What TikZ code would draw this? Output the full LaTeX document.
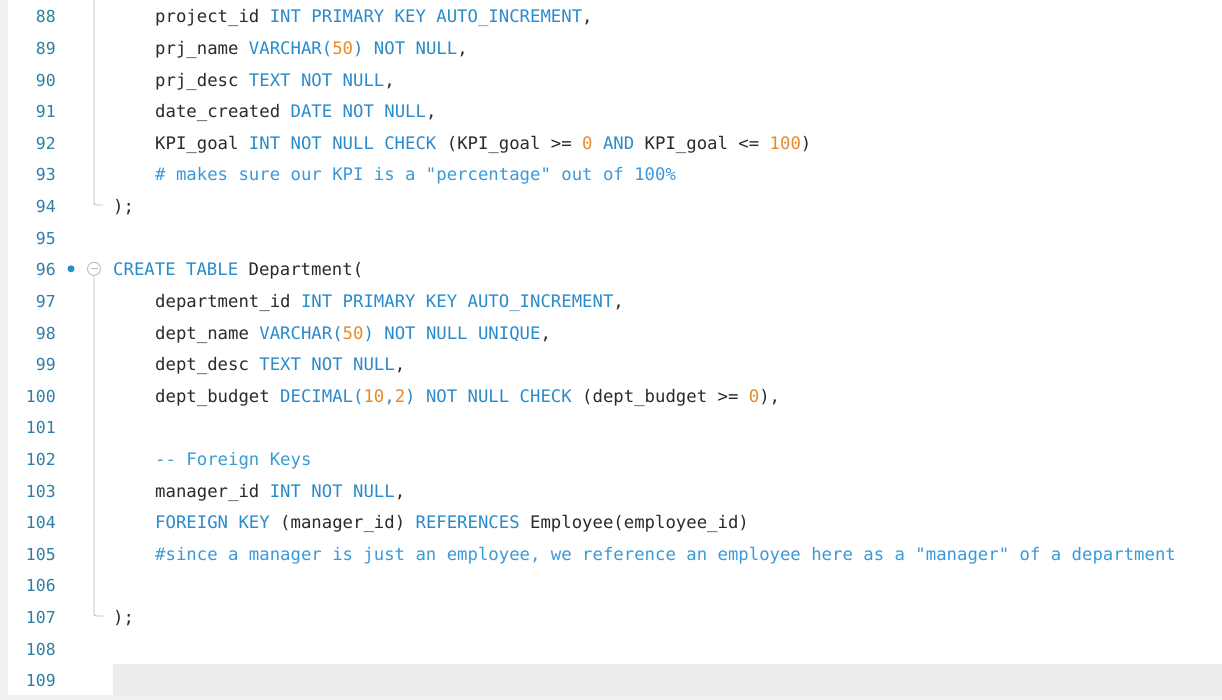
\documentclass[tikz,border=0pt]{standalone}
\usepackage{fontspec}
\newfontfamily\codefont{DejaVu Sans Mono}
\definecolor{kw}{HTML}{2A8BCB}
\definecolor{num}{HTML}{E8892B}
\definecolor{cmt}{HTML}{3A9AD9}
\definecolor{txt}{HTML}{2B2B2B}
\definecolor{lnum}{HTML}{2F7EA6}
\definecolor{fold}{HTML}{B8B8B0}
\newcommand{\kw}[1]{\textcolor{kw}{#1}}
\newcommand{\nm}[1]{\textcolor{num}{#1}}
\newcommand{\cm}[1]{\textcolor{cmt}{#1}}
\begin{document}
\begin{tikzpicture}[x=1pt,y=-1pt,
  code/.style={anchor=base west,inner sep=0,font=\codefont\fontsize{17.3}{18}\selectfont,text=txt},
  ln/.style={anchor=base east,inner sep=0,font=\codefont\fontsize{16.5}{18}\selectfont,text=lnum}]
\useasboundingbox (0,0) rectangle (1222,700);
\fill[white] (0,0) rectangle (1222,700);
\fill[black!6] (0,0) rectangle (8,700);
\fill[black!6] (0,695) rectangle (1222,700);
\fill[black!7] (113,664) rectangle (1222,695);
% line numbers
\foreach \n [count=\i from 0] in {88,...,109} {
  \node[ln] (l\n) at (56,{23+\i*31.6}) {\n};
}
% fold markers
\draw[fold,line width=0.8] (94,0) -- (94,200) .. controls (94,205) .. (99,205) -- (103,205);
\fill[kw] (71,268.8) circle (3.5);
\draw[fold,line width=0.8] (94,268.8) circle (6.5);
\draw[fold,line width=0.8] (90.5,268.8) -- (97.5,268.8);
\draw[fold,line width=0.8] (94,275.3) -- (94,611) .. controls (94,616) .. (99,616) -- (103,616);
% code
\def\Y#1{{23+(#1-88)*31.6}}
\node[code] (c88) at (155,\Y{88}) {project\_id \kw{INT PRIMARY KEY AUTO\_INCREMENT},};
\node[code] (c89) at (155,\Y{89}) {prj\_name \kw{VARCHAR(}\nm{50}\kw{)} \kw{NOT NULL},};
\node[code] (c90) at (155,\Y{90}) {prj\_desc \kw{TEXT NOT NULL},};
\node[code] (c91) at (155,\Y{91}) {date\_created \kw{DATE NOT NULL},};
\node[code] (c92) at (155,\Y{92}) {KPI\_goal \kw{INT NOT NULL CHECK} (KPI\_goal >= \nm{0} \kw{AND} KPI\_goal <= \nm{100})};
\node[code] (c93) at (155,\Y{93}) {\cm{\# makes sure our KPI is a "percentage" out of 100\%}};
\node[code] (c94) at (113,\Y{94}) {);};
\node[code] (c96) at (113,\Y{96}) {\kw{CREATE TABLE} Department(};
\node[code] (c97) at (155,\Y{97}) {department\_id \kw{INT PRIMARY KEY AUTO\_INCREMENT},};
\node[code] (c98) at (155,\Y{98}) {dept\_name \kw{VARCHAR(}\nm{50}\kw{)} \kw{NOT NULL UNIQUE},};
\node[code] (c99) at (155,\Y{99}) {dept\_desc \kw{TEXT NOT NULL},};
\node[code] (c100) at (155,\Y{100}) {dept\_budget \kw{DECIMAL(}\nm{10}\kw{,}\nm{2}\kw{)} \kw{NOT NULL CHECK} (dept\_budget >= \nm{0}),};
\node[code] (c102) at (155,\Y{102}) {\cm{-{}- Foreign Keys}};
\node[code] (c103) at (155,\Y{103}) {manager\_id \kw{INT NOT NULL},};
\node[code] (c104) at (155,\Y{104}) {\kw{FOREIGN KEY} (manager\_id) \kw{REFERENCES} Employee(employee\_id)};
\node[code] (c105) at (155,\Y{105}) {\cm{\#since a manager is just an employee, we reference an employee here as a "manager" of a department}};
\node[code] (c107) at (113,\Y{107}) {);};
\end{tikzpicture}
\end{document}
